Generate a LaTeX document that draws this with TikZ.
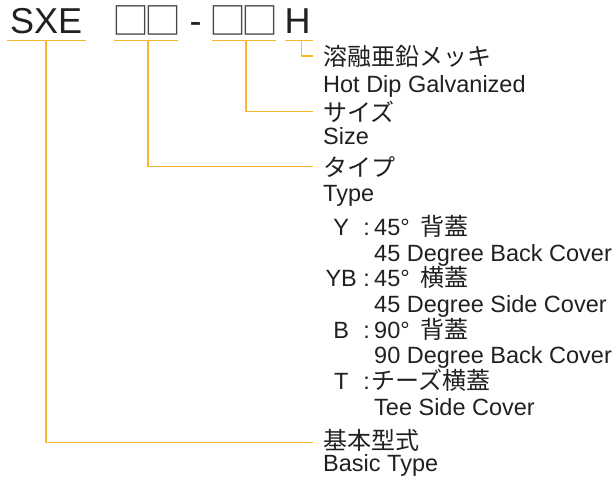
\documentclass[tikz,border=0pt]{standalone}
\usepackage{fontspec}
\setmainfont{Liberation Sans}
\newfontfamily\jpfont{Noto Sans CJK JP}
\definecolor{lead}{RGB}{250,182,45}
\definecolor{ink}{RGB}{35,31,32}
\newcommand\codelabel[1]{\makebox[36pt][c]{#1}\makebox[15pt][c]{:}}
\newcommand\jptext[1]{{\jpfont\fontsize{24}{26}\selectfont #1}}
\newcommand\slotglyph{\makebox[32pt][c]{□}}

\begin{document}
\begin{tikzpicture}[x=1pt,y=-1pt,
    leader/.style={draw=lead,line width=1.5pt},
    part/.style={anchor=base west,inner sep=0pt,text=ink,font=\fontsize{36}{40}\selectfont},
    slot/.style={inner sep=0pt,text=black!72,font=\jpfont\fontsize{37}{40}\selectfont},
    en/.style={anchor=base west,inner sep=0pt,text=ink,font=\fontsize{23.5}{26}\selectfont},
    jp/.style={en,font=\jpfont\fontsize{24}{26}\selectfont}]
  \useasboundingbox (0,0) rectangle (614,479);

  % model code
  \node[part] (sxe) at (10,33.3) {SXE};
  \node[slot] (typeslot) at (146.5,20.7) {\slotglyph\slotglyph};
  \node[part] (dash) at (189.5,33.3) {-};
  \node[slot] (sizeslot) at (244,20.7) {\slotglyph\slotglyph};
  \node[part] (hdg) at (284.5,33.3) {H};

  % explanations
  \node[jp] (galv) at (323,65) {溶融亜鉛メッキ};
  \node[en] (galv-en) at (323,92) {Hot Dip Galvanized};
  \node[jp] (size) at (323,121) {サイズ};
  \node[en] (size-en) at (323,144.5) {Size};
  \node[jp] (type) at (323,176.5) {タイプ};
  \node[en] (type-en) at (323,201) {Type};
  \node[en] (y) at (323,235) {\codelabel{Y}45°\hspace{11pt}\jptext{背蓋}};
  \node[en] (y-en) at (374,261) {45 Degree Back Cover};
  \node[en] (yb) at (323,286.7) {\codelabel{YB}45°\hspace{11pt}\jptext{横蓋}};
  \node[en] (yb-en) at (374,312) {45 Degree Side Cover};
  \node[en] (b) at (323,338) {\codelabel{B}90°\hspace{11pt}\jptext{背蓋}};
  \node[en] (b-en) at (374,363.5) {90 Degree Back Cover};
  \node[en] (t) at (323,389) {\codelabel{T}\hspace{-3pt}\jptext{チーズ横蓋}};
  \node[en] (t-en) at (374,415) {Tee Side Cover};
  \node[jp] (basic) at (323,449.5) {基本型式};
  \node[en] (basic-en) at (323,471) {Basic Type};

  % underlines
  \draw[leader] (7,40.7) -- (86,40.7);
  \draw[leader] (114,40.7) -- (178,40.7);
  \draw[leader] (212,40.7) -- (276,40.7);
  \draw[leader] (285,40.7) -- (313,40.7);

  % leaders
  \draw[leader] (46,40.7) |- ([xshift=-10pt,yshift=7pt]basic.base west);
  \draw[leader] (148,40.7) |- ([xshift=-10pt,yshift=10pt]type.base west);
  \draw[leader] (246,40.7) |- ([xshift=-10pt,yshift=9.5pt]size.base west);
  \draw[leader] (301.7,40.7) |- ([xshift=-10pt,yshift=9pt]galv.base west);
\end{tikzpicture}
\end{document}
